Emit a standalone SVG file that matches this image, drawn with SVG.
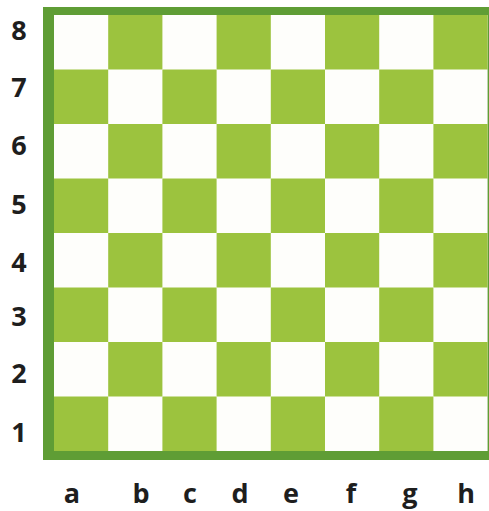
<svg xmlns="http://www.w3.org/2000/svg" width="489" height="511" viewBox="0 0 489 511">
<style>
.lbl{font-family:"Open Sans","Liberation Sans",sans-serif;font-weight:bold;font-size:27px;fill:#1e1e1e;text-anchor:middle}
.g{fill:#9cc33e}
.w{fill:#fefefb}
</style>
<defs>
<rect id="sq" width="54.2" height="54.5"/>
</defs>
<rect width="489" height="511" fill="#ffffff"/>
<g id="board">
<rect x="43" y="7" width="446" height="453" fill="#5f9d35"/>
<rect x="54" y="15" width="433.6" height="436" fill="#fefefb"/>
<g id="squares" class="g">
<use href="#sq" x="108.2" y="15"/><use href="#sq" x="216.6" y="15"/><use href="#sq" x="325" y="15"/><use href="#sq" x="433.4" y="15"/>
<use href="#sq" x="54" y="69.5"/><use href="#sq" x="162.4" y="69.5"/><use href="#sq" x="270.8" y="69.5"/><use href="#sq" x="379.2" y="69.5"/>
<use href="#sq" x="108.2" y="124"/><use href="#sq" x="216.6" y="124"/><use href="#sq" x="325" y="124"/><use href="#sq" x="433.4" y="124"/>
<use href="#sq" x="54" y="178.5"/><use href="#sq" x="162.4" y="178.5"/><use href="#sq" x="270.8" y="178.5"/><use href="#sq" x="379.2" y="178.5"/>
<use href="#sq" x="108.2" y="233"/><use href="#sq" x="216.6" y="233"/><use href="#sq" x="325" y="233"/><use href="#sq" x="433.4" y="233"/>
<use href="#sq" x="54" y="287.5"/><use href="#sq" x="162.4" y="287.5"/><use href="#sq" x="270.8" y="287.5"/><use href="#sq" x="379.2" y="287.5"/>
<use href="#sq" x="108.2" y="342"/><use href="#sq" x="216.6" y="342"/><use href="#sq" x="325" y="342"/><use href="#sq" x="433.4" y="342"/>
<use href="#sq" x="54" y="396.5"/><use href="#sq" x="162.4" y="396.5"/><use href="#sq" x="270.8" y="396.5"/><use href="#sq" x="379.2" y="396.5"/>
</g>
</g>
<g id="ranks" class="lbl">
<text x="19" y="40">8</text>
<text x="19" y="97">7</text>
<text x="19" y="155">6</text>
<text x="19" y="214">5</text>
<text x="19" y="271.5">4</text>
<text x="19" y="325.5">3</text>
<text x="19" y="383">2</text>
<text x="19" y="441.5">1</text>
</g>
<g id="files" class="lbl">
<text x="72" y="503">a</text>
<text x="141" y="503">b</text>
<text x="190" y="503">c</text>
<text x="240" y="503">d</text>
<text x="291" y="503">e</text>
<text x="351" y="503">f</text>
<text x="410" y="503">g</text>
<text x="466" y="503">h</text>
</g>
</svg>
